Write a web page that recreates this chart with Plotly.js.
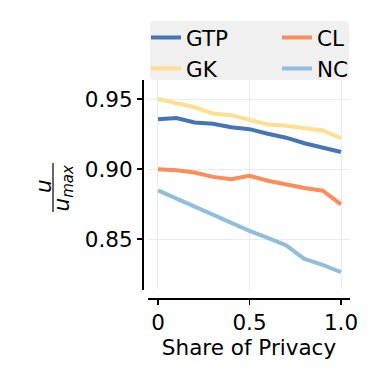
<!DOCTYPE html>
<html>
<head>
<meta charset="utf-8">
<script src="https://cdn.plot.ly/plotly-3.0.1.min.js"></script>
<style>html,body{margin:0;padding:0;background:#fff}#chart{width:374px;height:374px}</style>
</head>
<body>
<div id="chart"></div>
<script>
const shareOfPrivacy = [0, 0.1, 0.2, 0.3, 0.4, 0.5, 0.6, 0.7, 0.8, 0.9, 1.0];
const gtp = [0.9356, 0.9365, 0.9332, 0.9323, 0.9299, 0.9285, 0.9252, 0.9224, 0.9184, 0.9155, 0.9122];
const gk  = [0.9500, 0.9469, 0.9441, 0.9396, 0.9385, 0.9351, 0.9318, 0.9309, 0.9295, 0.9276, 0.9221];
const cl  = [0.8999, 0.8992, 0.8975, 0.8944, 0.8928, 0.8952, 0.8916, 0.8888, 0.8864, 0.8845, 0.8748];
const nc  = [0.8848, 0.8789, 0.8730, 0.8671, 0.8615, 0.8559, 0.8509, 0.8455, 0.8358, 0.8315, 0.8264];
const xTickVals = [0, 0.5, 1];
const xTickText = ['0', '0.5', '1.0'];
const yTickVals = [0.85, 0.90, 0.95];
const yTickText = ['0.85', '0.90', '0.95'];

const W = 374, H = 374;
const mL = 142, mR = 24, mT = 80, mB = 76;
const pw = W - mL - mR, ph = H - mT - mB;
const px = v => (v - mL) / pw;
const py = v => (H - mB - v) / ph;
const FONT = 'DejaVu Sans';
const FS = 21.5;

function tr(name, y, color, legend) {
  return {x: shareOfPrivacy, y: y, name: name, type: 'scatter', mode: 'lines',
    line: {color: color, width: 4}, legend: legend};
}
const data = [
  tr('GTP', gtp, '#4575b4', 'legend'),
  tr('GK', gk, '#fee090', 'legend'),
  tr('CL', cl, '#fc8d59', 'legend2'),
  tr('NC', nc, '#91bfdb', 'legend2')
];

// rounded legend box
const bx0 = px(150), bx1 = px(349), by0 = py(80), by1 = py(21);
const rx = 4 / pw, ry = 4 / ph;
const boxPath = `M ${bx0+rx},${by0} L ${bx1-rx},${by0} Q ${bx1},${by0} ${bx1},${by0+ry} L ${bx1},${by1-ry} Q ${bx1},${by1} ${bx1-rx},${by1} L ${bx0+rx},${by1} Q ${bx0},${by1} ${bx0},${by1-ry} L ${bx0},${by0+ry} Q ${bx0},${by0} ${bx0+rx},${by0} Z`;

const legendCommon = {
  bgcolor: 'rgba(0,0,0,0)', borderwidth: 0, orientation: 'v',
  font: {family: FONT, size: FS, color: '#000'},
  xanchor: 'left', yanchor: 'top', itemwidth: 30, tracegroupgap: 0
};

const layout = {
  width: W, height: H,
  margin: {l: mL, r: mR, t: mT, b: mB, pad: 0},
  paper_bgcolor: '#fff', plot_bgcolor: '#fff',
  font: {family: FONT, size: FS, color: '#000'},
  showlegend: true,
  legend: Object.assign({}, legendCommon, {x: px(146), y: py(17)}),
  legend2: Object.assign({}, legendCommon, {x: px(277), y: py(17)}),
  xaxis: {
    domain: [6 / pw, 1], anchor: 'free', position: 0,
    range: [-0.0546, 1.0492], tickvals: xTickVals, ticktext: xTickText,
    showline: true, linecolor: '#000', linewidth: 1.5,
    ticks: 'outside', ticklen: 5, tickwidth: 1.5, tickcolor: '#000',
    showgrid: true, gridcolor: '#ebebeb', gridwidth: 1, zeroline: false,
    tickfont: {family: FONT, size: FS, color: '#000'},
    title: {text: 'Share of Privacy', font: {family: FONT, size: FS, color: '#000'}, standoff: 2}
  },
  yaxis: {
    domain: [8 / ph, 1], anchor: 'free', position: 0,
    range: [0.8136, 0.9636], tickvals: yTickVals, ticktext: yTickText,
    showline: true, linecolor: '#000', linewidth: 1.5,
    ticks: 'outside', ticklen: 5, tickwidth: 1.5, tickcolor: '#000',
    showgrid: true, gridcolor: '#ebebeb', gridwidth: 1, zeroline: false,
    tickfont: {family: FONT, size: FS, color: '#000'}
  },
  shapes: [
    {type: 'path', xref: 'paper', yref: 'paper', path: boxPath,
     fillcolor: '#f0f0f0', line: {width: 0}, layer: 'below'},
    {type: 'line', xref: 'paper', yref: 'paper', x0: px(53), x1: px(53), y0: py(163), y1: py(212),
     line: {color: '#000', width: 1.2}}
  ],
  annotations: [
    {xref: 'paper', yref: 'paper', x: px(43), y: py(186), text: '<i>u</i>', showarrow: false,
     textangle: -90, font: {family: FONT, size: FS, color: '#000'}, xanchor: 'center', yanchor: 'middle'},
    {xref: 'paper', yref: 'paper', x: px(63), y: py(187.5), text: '<i>u<sub>max</sub></i>', showarrow: false,
     textangle: -90, font: {family: FONT, size: FS, color: '#000'}, xanchor: 'center', yanchor: 'middle'}
  ]
};

Plotly.newPlot('chart', data, layout, {displayModeBar: false, staticPlot: true});
</script>
</body>
</html>
